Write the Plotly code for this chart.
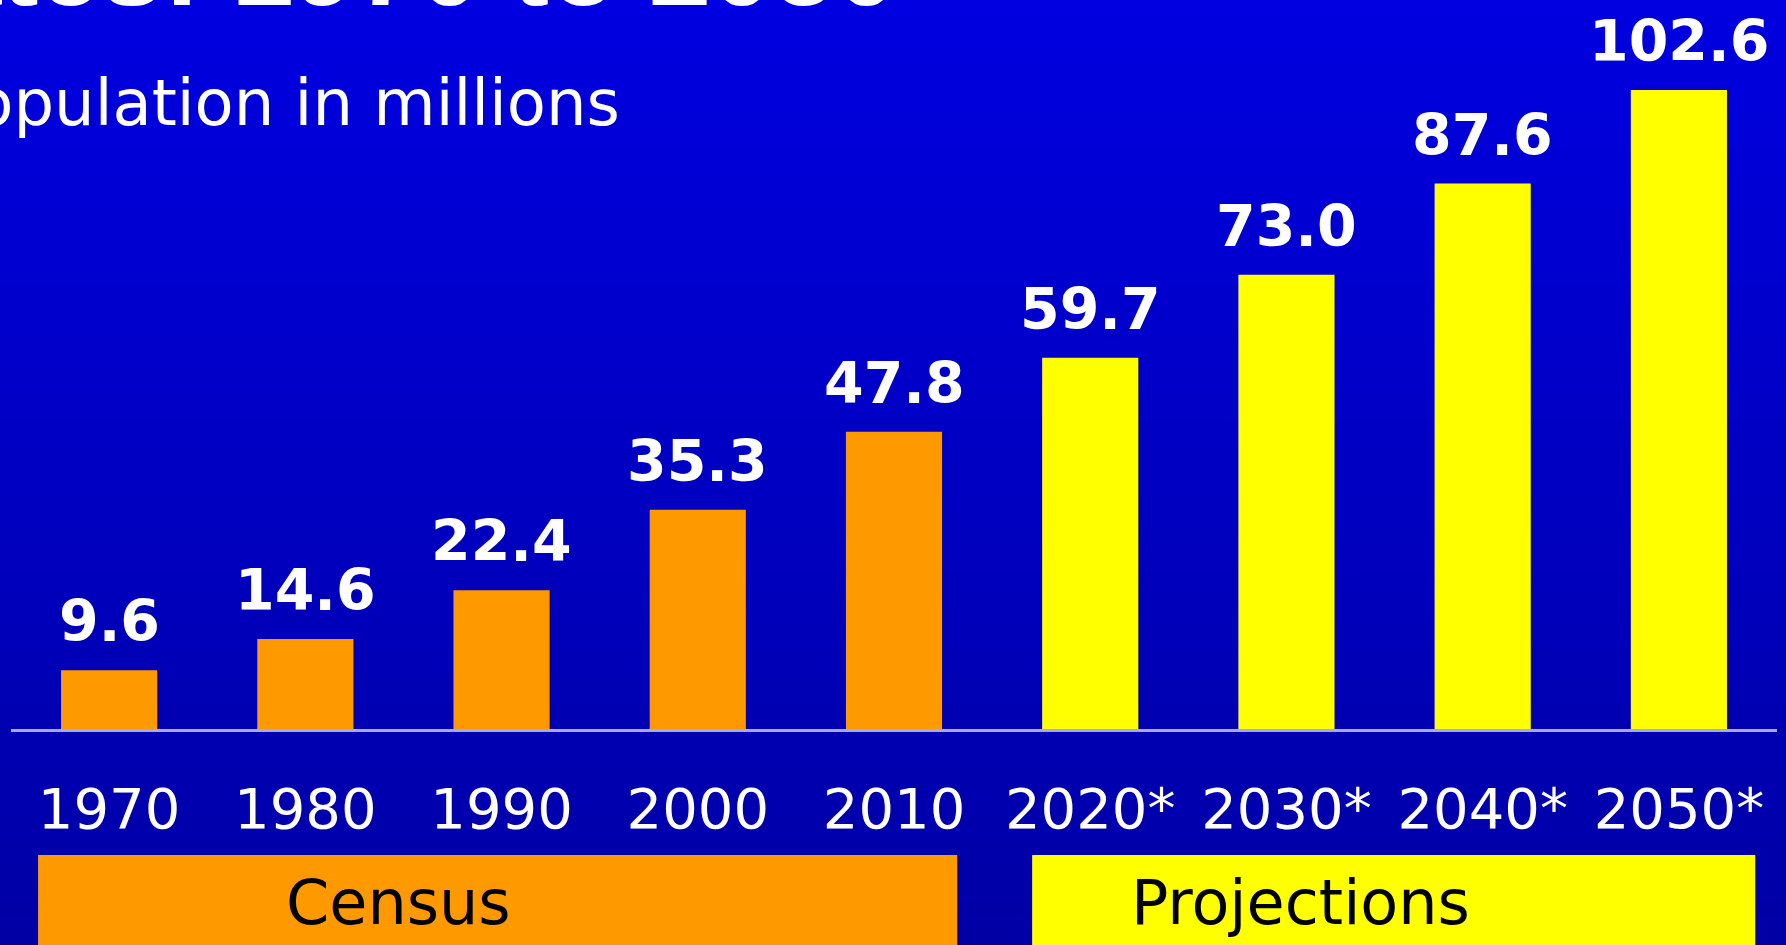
import plotly.graph_objects as go

# Hispanic population, in millions
census_years = ["1970", "1980", "1990", "2000", "2010"]
census_values = [9.6, 14.6, 22.4, 35.3, 47.8]
projection_years = ["2020*", "2030*", "2040*", "2050*"]
projection_values = [59.7, 73.0, 87.6, 102.6]

all_years = census_years + projection_years
all_values = census_values + projection_values

ORANGE = "#FF9900"
YELLOW = "#FFFF00"
WHITE = "#FFFFFF"

W, H = 1786, 945
Y_MIN, Y_MAX = -34.47, 117.04  # value axis, extended below zero for the year row and group boxes

fig = go.Figure()
fig.add_trace(go.Bar(x=census_years, y=census_values, marker=dict(color=ORANGE, line=dict(width=0)),
                     width=0.49, name="Census", hoverinfo="x+y"))
fig.add_trace(go.Bar(x=projection_years, y=projection_values, marker=dict(color=YELLOW, line=dict(width=0)),
                     width=0.49, name="Projections", hoverinfo="x+y"))

# value labels above each bar (category index used as x so numeric-looking names stay categories)
annotations = []
for idx, v in enumerate(all_values):
    annotations.append(dict(x=idx, y=v, xref="x", yref="y", text=f"{v:.1f}", showarrow=False,
                            yanchor="middle", yshift=49,
                            font=dict(family="DejaVu Sans", size=57, color=WHITE, weight="bold")))

# group labels sitting in the coloured boxes
annotations.append(dict(x=1.475, y=-27.6, xref="x", yref="y", text="Census", showarrow=False,
                        yanchor="middle", font=dict(family="DejaVu Sans", size=62, color="#000000")))
annotations.append(dict(x=6.07, y=-27.6, xref="x", yref="y", text="Projections", showarrow=False,
                        yanchor="middle", font=dict(family="DejaVu Sans", size=62, color="#000000")))

# slide heading and subheading
annotations.append(dict(x=900 / W, y=1 - 31 / H, xref="paper", yref="paper", text="States: 1970 to 2050",
                        showarrow=False, xanchor="right", yanchor="bottom",
                        font=dict(family="Liberation Sans", size=112, color=WHITE, weight="bold")))
annotations.append(dict(x=622 / W, y=1 - 103 / H, xref="paper", yref="paper", text="Population in millions",
                        showarrow=False, xanchor="right", yanchor="middle",
                        font=dict(family="DejaVu Sans", size=64, color=WHITE)))

shapes = []
# vertical blue gradient behind everything
n_bands = 63
top_rgb, bot_rgb = (0, 0, 224), (0, 0, 165)
for i in range(n_bands):
    t = i / (n_bands - 1)
    col = tuple(round(a + (b - a) * t) for a, b in zip(top_rgb, bot_rgb))
    shapes.append(dict(type="rect", xref="paper", yref="paper",
                       x0=0, x1=1, y0=1 - (i + 1) / n_bands - 0.001, y1=1 - i / n_bands,
                       fillcolor=f"rgb{col}", line=dict(width=0), layer="below"))

# group boxes under the year row
shapes.append(dict(type="rect", xref="x", yref="y", x0=-0.362, x1=4.322, y0=-20.04, y1=-60,
                   fillcolor=ORANGE, line=dict(width=0), layer="below"))
shapes.append(dict(type="rect", xref="x", yref="y", x0=4.704, x1=8.389, y0=-20.04, y1=-60,
                   fillcolor=YELLOW, line=dict(width=0), layer="below"))

axis_pos = -Y_MIN / (Y_MAX - Y_MIN)

fig.update_layout(
    width=W, height=H,
    margin=dict(l=0, r=0, t=0, b=0, pad=0),
    paper_bgcolor="#0000C0",
    plot_bgcolor="rgba(0,0,0,0)",
    barmode="overlay",
    showlegend=False,
    annotations=annotations,
    shapes=shapes,
    xaxis=dict(type="category", categoryorder="array", categoryarray=all_years,
               range=[-0.5, 8.5], domain=[11 / W, 1777 / W],
               anchor="free", position=axis_pos,
               showline=True, linecolor="#A8A8F0", linewidth=3,
               showgrid=False, zeroline=False, ticks="",
               ticklabelstandoff=29,
               tickfont=dict(family="DejaVu Sans", size=56, color=WHITE)),
    yaxis=dict(range=[Y_MIN, Y_MAX], visible=False, showgrid=False, zeroline=False),
)

fig.write_html("out.html")
